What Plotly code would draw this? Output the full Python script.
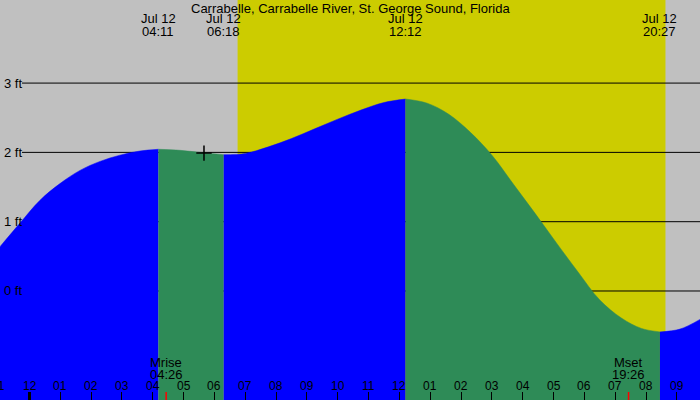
import plotly.graph_objects as go

# ---------------- data (hours after midnight, Jul 12; heights in ft) ----------------
title_text = "Carrabelle, Carrabelle River, St. George Sound, Florida"

tide_hours = [-0.957, -0.308, 0.341, 0.989, 1.638, 2.287, 2.935, 3.584, 4.183,
              4.88, 5.53, 6.30,
              7.0, 7.75, 8.5, 9.25, 10.0, 10.75, 11.5, 12.20,
              12.9, 13.6, 14.3, 15.0, 15.7, 16.4, 17.1, 17.8, 18.5, 19.2, 19.85, 20.45,
              21.10, 21.75]
tide_ft = [0.64, 0.98, 1.31, 1.55, 1.74, 1.87, 1.96, 2.02, 2.045,
           2.03, 2.00, 1.967,
           1.985, 2.08, 2.20, 2.34, 2.48, 2.61, 2.72, 2.77,
           2.71, 2.55, 2.29, 1.96, 1.54, 1.12, 0.69, 0.27, -0.13, -0.39, -0.54, -0.59,
           -0.55, -0.41]

extreme_hours = [4.183, 6.30, 12.20, 20.45]
extreme_dates = ["Jul 12", "Jul 12", "Jul 12", "Jul 12"]
extreme_times = ["04:11", "06:18", "12:12", "20:27"]

sunrise_hour = 6.75
sunset_hour = 20.63

moon_hours = [4.433, 19.433]
moon_names = ["Mrise", "Mset"]
moon_times = ["04:26", "19:26"]

now_hour = 5.66
now_ft = 1.99

hour_ticks = list(range(0, 22))
hour_labels = ["12", "01", "02", "03", "04", "05", "06", "07", "08", "09", "10", "11",
               "12", "01", "02", "03", "04", "05", "06", "07", "08", "09"]

ft_levels = [0, 1, 2, 3]
ft_labels = ["0 ft", "1 ft", "2 ft", "3 ft"]

x_range = [-0.957, 21.75]
y_range = [-1.573, 4.199]

# ---------------- styles ----------------
FONT = "Liberation Sans, Arial, sans-serif"
NIGHT = "#C0C0C0"
DAY = "#CCCC00"
RISING = "#0000FF"
FALLING = "#2E8B57"

fig = go.Figure()

# split the curve at the extremes
split_idx = [0] + [tide_hours.index(h) for h in extreme_hours] + [len(tide_hours) - 1]
for a, b in zip(split_idx[:-1], split_idx[1:]):
    xs = tide_hours[a:b + 1]
    ys = tide_ft[a:b + 1]
    color = FALLING if ys[-1] < ys[0] else RISING
    fig.add_trace(go.Scatter(x=[xs[0], xs[-1]], y=[y_range[0] - 1] * 2, mode="lines",
                             line=dict(width=0, color=color), hoverinfo="skip",
                             showlegend=False))
    fig.add_trace(go.Scatter(x=xs, y=ys, mode="lines", line_shape="spline",
                             line=dict(width=0.5, color=color), fill="tonexty",
                             fillcolor=color, hoverinfo="skip", showlegend=False))

fig.add_trace(go.Scatter(x=[now_hour], y=[now_ft], mode="markers",
                         marker=dict(symbol="cross-thin", size=11,
                                     line=dict(width=1.5, color="black")),
                         showlegend=False, hoverinfo="skip"))

shapes = [dict(type="rect", xref="x", yref="paper", x0=sunrise_hour, x1=sunset_hour,
               y0=0, y1=1, fillcolor=DAY, line_width=0, layer="below")]
for lv in ft_levels:
    shapes.append(dict(type="line", xref="paper", yref="y", x0=22 / 700, x1=1,
                       y0=lv, y1=lv, line=dict(color="black", width=1), layer="below"))
# bold midnight tick
shapes.append(dict(type="line", xref="x", yref="paper", x0=hour_ticks[0], x1=hour_ticks[0],
                   y0=0, y1=8 / 400, line=dict(color="black", width=3)))
for mh in moon_hours:
    shapes.append(dict(type="line", xref="x", yref="paper", x0=mh, x1=mh,
                       y0=0, y1=8 / 400, line=dict(color="red", width=1.5)))


def label(text, x, y, xref="x", yref="paper", size=13, xanchor="center"):
    return dict(text=text, xref=xref, yref=yref, x=x, y=y, xanchor=xanchor,
                yanchor="middle", showarrow=False,
                font=dict(size=size, color="black", family=FONT))


ann = [label(title_text, 0.5, 1 - 8 / 400, xref="paper")]
for h, d, t in zip(extreme_hours, extreme_dates, extreme_times):
    ann.append(label(d, h, 1 - 19 / 400))
    ann.append(label(t, h, 1 - 31 / 400))
for h, n, t in zip(moon_hours, moon_names, moon_times):
    ann.append(label(n, h, 1 - 362 / 400))
    ann.append(label(t, h, 1 - 374 / 400))
for lv, lab in zip(ft_levels, ft_labels):
    ann.append(label(lab, 2 / 700, lv, xref="paper", yref="y", xanchor="left"))
for h, lab in zip(hour_ticks, hour_labels):
    ann.append(label(lab, h, 1 - 386 / 400, size=12))
# partially visible 11 pm label at the left edge
ann.append(label("11", -1.3 / 700, 1 - 386 / 400, xref="paper", size=12))

fig.update_layout(
    width=700, height=400,
    margin=dict(l=0, r=0, t=0, b=0),
    paper_bgcolor=NIGHT, plot_bgcolor=NIGHT,
    shapes=shapes, annotations=ann,
    xaxis=dict(range=x_range, showgrid=False, zeroline=False, showline=False,
               tickvals=hour_ticks, ticktext=[""] * len(hour_ticks),
               ticks="inside", ticklen=8, tickwidth=1, tickcolor="black",
               fixedrange=True),
    yaxis=dict(range=y_range, visible=False, fixedrange=True),
    showlegend=False,
)

fig.write_html("out.html")
